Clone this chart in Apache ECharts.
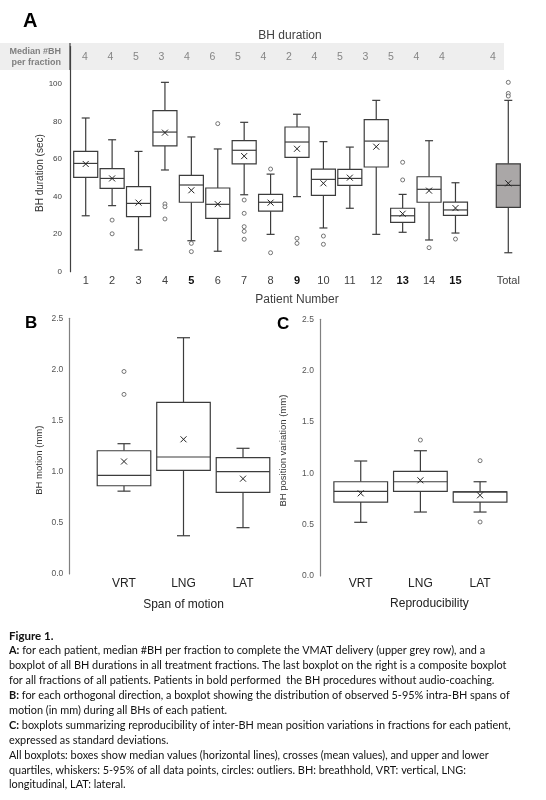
<!DOCTYPE html>
<html>
<head>
<meta charset="utf-8">
<script src="https://cdn.jsdelivr.net/npm/echarts@6/dist/echarts.min.js"></script>
<style>
html,body{margin:0;padding:0;background:#fff;}
#main{width:546px;height:800px;}
</style>
</head>
<body>
<div id="main"></div>
<script>
// ---------- Panel A data ----------
const patients = ['1','2','3','4','5','6','7','8','9','10','11','12','13','14','15','','Total'];
const boldPatients = ['5','9','13','15'];
const medianBH = [4,4,5,3,4,6,5,4,2,4,5,3,5,4,4,null,4];
const lowA  = [29.8,35.2,11.6,54.2,16.5,10.9,41.0,19.9,40.0,23.3,33.8,19.9,21.0,16.9,20.6,null,10.1];
const q1A   = [50.3,44.4,29.3,67.1,37.0,28.4,57.5,32.3,60.9,40.7,46.0,55.8,26.3,37.0,30.0,null,34.3];
const medA  = [57.7,49.7,36.4,74.4,46.2,35.9,64.7,37.0,69.1,49.2,49.7,69.6,29.8,43.9,32.9,null,46.0];
const q3A   = [64.1,54.9,45.3,85.8,51.3,44.6,69.8,41.2,77.1,54.7,54.5,81.0,33.8,50.6,37.1,null,57.5];
const highA = [81.9,70.3,64.1,100.9,71.8,65.4,79.6,52.0,83.9,69.3,66.4,91.3,41.2,69.8,47.4,null,91.3];
const meanA = [57.4,49.7,36.8,74.1,43.4,36.0,61.6,36.8,65.5,47.1,50.1,66.6,30.9,43.2,33.9,null,47.1];
const outliersA = [
  ['2',27.5],['2',20.2],
  ['4',36.1],['4',34.6],['4',28.1],
  ['5',15.1],['5',10.7],
  ['6',78.9],
  ['7',38.2],['7',31.1],['7',24.0],['7',21.5],['7',17.3],
  ['8',54.7],['8',10.1],
  ['9',17.8],['9',15.1],
  ['10',19.0],['10',14.6],
  ['13',58.3],['13',48.9],
  ['14',12.8],
  ['15',17.4],
  ['Total',100.9],['Total',95.0],['Total',93.6]
];
const yTicksA = [0,20,40,60,80,100];

// ---------- Panel B data (span of motion) ----------
const dirs = ['VRT','LNG','LAT'];
const lowB  = [0.81,0.374,0.453];
const q1B   = [0.863,1.013,0.798];
const medB  = [0.965,1.144,1.0];
const q3B   = [1.205,1.678,1.137];
const highB = [1.274,2.31,1.229];
const meanB = [1.10,1.317,0.932];
const outliersB = [['VRT',1.98],['VRT',1.756]];

// ---------- Panel C data (reproducibility) ----------
const lowC  = [0.523,0.623,0.623];
const q1C   = [0.72,0.824,0.72];
const medC  = [0.824,0.918,0.82];
const q3C   = [0.918,1.019,0.82];
const highC = [1.12,1.22,0.918];
const meanC = [0.805,0.932,0.786];
const outliersC = [['LNG',1.324],['LAT',1.123],['LAT',0.526]];

const captionLines = [
  '{h|Figure 1.}',
  '{b|A:} for each patient, median #BH per fraction to complete the VMAT delivery (upper grey row), and a',
  'boxplot of all BH durations in all treatment fractions. The last boxplot on the right is a composite boxplot',
  'for all fractions of all patients. Patients in bold performed  the BH procedures without audio-coaching.',
  '{b|B:} for each orthogonal direction, a boxplot showing the distribution of observed 5-95% intra-BH spans of',
  'motion (in mm) during all BHs of each patient.',
  '{b|C:} boxplots summarizing reproducibility of inter-BH mean position variations in fractions for each patient,',
  'expressed as standard deviations.',
  'All boxplots: boxes show median values (horizontal lines), crosses (mean values), and upper and lower',
  'quartiles, whiskers: 5-95% of all data points, circles: outliers. BH: breathhold, VRT: vertical, LNG:',
  'longitudinal, LAT: lateral.'
];

// ---------- helpers ----------
function boxData(low,q1,med,q3,high,mean){
  const out=[];
  for(let i=0;i<low.length;i++){
    if(low[i]==null) continue;
    out.push([i,low[i],q1[i],med[i],q3[i],high[i],mean[i]]);
  }
  return out;
}
const LINE = '#3c3c3c';
function makeRender(capW, frac, fills, lw){
  return function(params, api){
    const x = api.value(0);
    const pLow = api.coord([x, api.value(1)]);
    const pQ1 = api.coord([x, api.value(2)]);
    const pMed = api.coord([x, api.value(3)]);
    const pQ3 = api.coord([x, api.value(4)]);
    const pHigh = api.coord([x, api.value(5)]);
    const pMean = api.coord([x, api.value(6)]);
    const bw = api.size([1,0])[0]*frac;
    const cx = pQ1[0];
    const st = {stroke: LINE, lineWidth: lw, fill: null};
    const fill = fills[x] || '#fff';
    const c = 3;
    return {type:'group', children:[
      {type:'line', shape:{x1:cx,y1:pQ3[1],x2:cx,y2:pHigh[1]}, style:st},
      {type:'line', shape:{x1:cx,y1:pQ1[1],x2:cx,y2:pLow[1]}, style:st},
      {type:'line', shape:{x1:cx-capW/2,y1:pHigh[1],x2:cx+capW/2,y2:pHigh[1]}, style:st},
      {type:'line', shape:{x1:cx-capW/2,y1:pLow[1],x2:cx+capW/2,y2:pLow[1]}, style:st},
      {type:'rect', shape:{x:cx-bw/2,y:pQ3[1],width:bw,height:pQ1[1]-pQ3[1]}, style:{stroke:LINE,lineWidth:lw,fill:fill}},
      {type:'line', shape:{x1:cx-bw/2,y1:pMed[1],x2:cx+bw/2,y2:pMed[1]}, style:st},
      {type:'line', shape:{x1:pMean[0]-c,y1:pMean[1]-c,x2:pMean[0]+c,y2:pMean[1]+c}, style:{stroke:'#222',lineWidth:1}},
      {type:'line', shape:{x1:pMean[0]-c,y1:pMean[1]+c,x2:pMean[0]+c,y2:pMean[1]-c}, style:{stroke:'#222',lineWidth:1}}
    ]};
  };
}
const fillsA = patients.map(p => p==='Total' ? '#aaa7a7' : '#fff');

const FONT = 'Liberation Sans';
const chart = echarts.init(document.getElementById('main'), null, {renderer:'canvas'});

const option = {
  backgroundColor:'#fff',
  animation:false,
  textStyle:{fontFamily:FONT},
  graphic:[
    {type:'rect', z:-10, shape:{x:0,y:43,width:504,height:27}, style:{fill:'#eeeeee'}},
    {type:'line', z:5, shape:{x1:70,y1:43,x2:70,y2:70}, style:{stroke:'#404040',lineWidth:1.2}},
    {type:'text', z:5, style:{x:61,y:57,text:'Median #BH\nper fraction',align:'right',verticalAlign:'middle',
      font:'bold 9px "Liberation Sans"',fill:'#7f7f7f',lineHeight:10.6}},
    {type:'text', style:{x:23,y:21,text:'A',align:'left',verticalAlign:'middle',font:'bold 20px "Liberation Sans"',fill:'#000'}},
    {type:'text', style:{x:25,y:323,text:'B',align:'left',verticalAlign:'middle',font:'bold 17px "Liberation Sans"',fill:'#000'}},
    {type:'text', style:{x:277,y:324,text:'C',align:'left',verticalAlign:'middle',font:'bold 17px "Liberation Sans"',fill:'#000'}},
    {type:'text', style:{x:9,y:628.5,text:captionLines.join('\n'),
      font:'10.9px Lato',fill:'#111',lineHeight:14.9,
      rich:{
        b:{fontWeight:'bold',fontFamily:'Lato',fontSize:10.9,fill:'#111',lineHeight:14.9},
        h:{fontWeight:'bold',fontFamily:'Lato',fontSize:11.5,fill:'#111',lineHeight:14.9}
      }}}
  ],
  title:{text:'BH duration', left:285, top:25, textAlign:'center',
    textStyle:{fontSize:12, fontWeight:'normal', color:'#404040', fontFamily:FONT}},
  grid:[
    {left:72.5, width:449, top:46.5, height:225.2},
    {left:72.25, width:433.5, top:43, height:27},
    {left:94.25, width:178.5, top:318.3, height:255.7},
    {left:330.9, width:179, top:319.3, height:256.7}
  ],
  xAxis:[
    {type:'category', gridIndex:0, data:patients, axisLine:{show:false}, axisTick:{show:false},
      name:'Patient Number', nameLocation:'middle', nameGap:22, nameMoveOverlap:false,
      nameTextStyle:{fontSize:12,color:'#404040',fontFamily:FONT},
      axisLabel:{interval:0, margin:4, fontSize:11, color:'#404040', fontFamily:FONT,
        formatter:v => boldPatients.includes(v) ? '{b|'+v+'}' : v,
        rich:{b:{fontWeight:'bold',fontSize:11,color:'#111',fontFamily:FONT}}}},
    {type:'category', gridIndex:1, data:patients, axisLine:{show:false}, axisTick:{show:false},
      axisLabel:{interval:0, margin:-13, verticalAlign:'middle', fontSize:10.5, color:'#858585', fontFamily:FONT,
        formatter:(v,i) => medianBH[i]==null ? '' : String(medianBH[i])}},
    {type:'category', gridIndex:2, data:dirs, axisLine:{show:false}, axisTick:{show:false},
      name:'Span of motion', nameLocation:'middle', nameGap:25, nameMoveOverlap:false,
      nameTextStyle:{fontSize:12,color:'#222',fontFamily:FONT},
      axisLabel:{margin:4, fontSize:12, color:'#222', fontFamily:FONT}},
    {type:'category', gridIndex:3, data:dirs, axisLine:{show:false}, axisTick:{show:false},
      name:'Reproducibility', nameLocation:'middle', nameGap:22, nameMoveOverlap:false,
      nameTextStyle:{fontSize:12,color:'#222',fontFamily:FONT,padding:[0,0,0,18]},
      axisLabel:{margin:2, fontSize:12, color:'#222', fontFamily:FONT}}
  ],
  yAxis:[
    {type:'value', gridIndex:0, min:0, max:120, interval:20, offset:2.5,
      axisLine:{show:true, lineStyle:{color:'#404040', width:1.2}}, axisTick:{show:false}, splitLine:{show:false},
      axisLabel:{margin:8, fontSize:8, color:'#404040', fontFamily:FONT,
        formatter:v => yTicksA.includes(v) ? String(v) : ''},
      name:'BH duration (sec)', nameLocation:'middle', nameGap:25, nameMoveOverlap:false,
      nameTextStyle:{fontSize:10, color:'#333', fontFamily:FONT, padding:[0,28,0,0]}},
    {type:'value', gridIndex:1, show:false, min:0, max:1},
    {type:'value', gridIndex:2, min:0, max:2.5, interval:0.5, offset:25,
      axisLine:{show:true, lineStyle:{color:'#808080', width:1.2}}, axisTick:{show:false}, splitLine:{show:false},
      axisLabel:{margin:6, fontSize:8.5, color:'#555', fontFamily:FONT, formatter:v => v.toFixed(1)},
      name:'BH motion (mm)', nameLocation:'middle', nameGap:25, nameMoveOverlap:false,
      nameTextStyle:{fontSize:9.5, color:'#333', fontFamily:FONT, padding:[0,28,0,0]}},
    {type:'value', gridIndex:3, min:0, max:2.5, interval:0.5, offset:11,
      axisLine:{show:true, lineStyle:{color:'#808080', width:1.2}}, axisTick:{show:false}, splitLine:{show:false},
      axisLabel:{margin:6, fontSize:8.5, color:'#555', fontFamily:FONT, formatter:v => v.toFixed(1)},
      name:'BH position variation (mm)', nameLocation:'middle', nameGap:32, nameMoveOverlap:false,
      nameTextStyle:{fontSize:9.5, color:'#333', fontFamily:FONT, padding:[0,6,0,0]}}
  ],
  series:[
    {type:'custom', xAxisIndex:0, yAxisIndex:0, renderItem:makeRender(8,0.91,fillsA,1.2),
      encode:{x:0,y:[1,2,3,4,5,6]}, data:boxData(lowA,q1A,medA,q3A,highA,meanA)},
    {type:'scatter', xAxisIndex:0, yAxisIndex:0, symbol:'circle', symbolSize:4,
      itemStyle:{color:'#fff', borderColor:'#555', borderWidth:1}, data:outliersA},
    {type:'custom', xAxisIndex:2, yAxisIndex:2, renderItem:makeRender(13,0.9,[],1.2),
      encode:{x:0,y:[1,2,3,4,5,6]}, data:boxData(lowB,q1B,medB,q3B,highB,meanB)},
    {type:'scatter', xAxisIndex:2, yAxisIndex:2, symbol:'circle', symbolSize:4,
      itemStyle:{color:'#fff', borderColor:'#555', borderWidth:1}, data:outliersB},
    {type:'custom', xAxisIndex:3, yAxisIndex:3, renderItem:makeRender(13,0.9,[],1.2),
      encode:{x:0,y:[1,2,3,4,5,6]}, data:boxData(lowC,q1C,medC,q3C,highC,meanC)},
    {type:'scatter', xAxisIndex:3, yAxisIndex:3, symbol:'circle', symbolSize:4,
      itemStyle:{color:'#fff', borderColor:'#555', borderWidth:1}, data:outliersC}
  ]
};
chart.setOption(option);
</script>
</body>
</html>
